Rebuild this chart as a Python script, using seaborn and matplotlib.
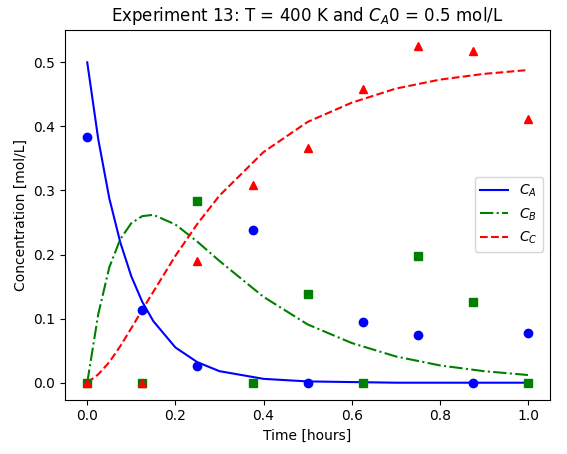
import matplotlib
matplotlib.use("Agg")
import matplotlib.pyplot as plt
import seaborn as sns

# model curves
t_fit = [0, 0.025, 0.05, 0.075, 0.1, 0.125, 0.15, 0.2, 0.25, 0.3, 0.4, 0.5, 0.6, 0.7, 0.8, 0.9, 1.0]
ca_fit = [0.5, 0.380, 0.288, 0.219, 0.166, 0.126, 0.096, 0.055, 0.032, 0.018, 0.006, 0.002, 0.001, 0.0, 0.0, 0.0, 0.0]
cb_fit = [0.0, 0.107, 0.180, 0.224, 0.249, 0.260, 0.262, 0.247, 0.220, 0.190, 0.134, 0.091, 0.062, 0.041, 0.027, 0.018, 0.012]
cc_fit = [0.0, 0.013, 0.032, 0.057, 0.085, 0.114, 0.142, 0.198, 0.248, 0.292, 0.360, 0.407, 0.437, 0.459, 0.473, 0.482, 0.488]

# measurements
t_obs = [0, 0.125, 0.25, 0.375, 0.5, 0.625, 0.75, 0.875, 1.0]
ca_obs = [0.383, 0.113, 0.026, 0.238, 0.0, 0.095, 0.075, 0.0, 0.077]
cb_obs = [0.0, 0.0, 0.284, 0.0, 0.139, 0.0, 0.198, 0.126, 0.0]
cc_obs = [0.0, 0.0, 0.190, 0.309, 0.366, 0.459, 0.525, 0.517, 0.412]

fig, ax = plt.subplots(figsize=(5.67, 4.54), dpi=100)

sns.lineplot(x=t_fit, y=ca_fit, color="blue", linestyle="-", label="$C_A$", ax=ax)
sns.lineplot(x=t_fit, y=cb_fit, color="green", linestyle="-.", label="$C_B$", ax=ax)
sns.lineplot(x=t_fit, y=cc_fit, color="red", linestyle="--", label="$C_C$", ax=ax)

ax.plot(t_obs, ca_obs, "o", color="blue")
ax.plot(t_obs, cb_obs, "s", color="green")
ax.plot(t_obs, cc_obs, "^", color="red")

ax.set_xlabel("Time [hours]")
ax.set_ylabel("Concentration [mol/L]")
ax.set_title("Experiment 13: T = 400 K and $C_A$0 = 0.5 mol/L")
ax.legend(loc="center right")

fig.subplots_adjust(left=0.115, right=0.97, top=0.935, bottom=0.12)
fig.savefig("out.png", dpi=100)
